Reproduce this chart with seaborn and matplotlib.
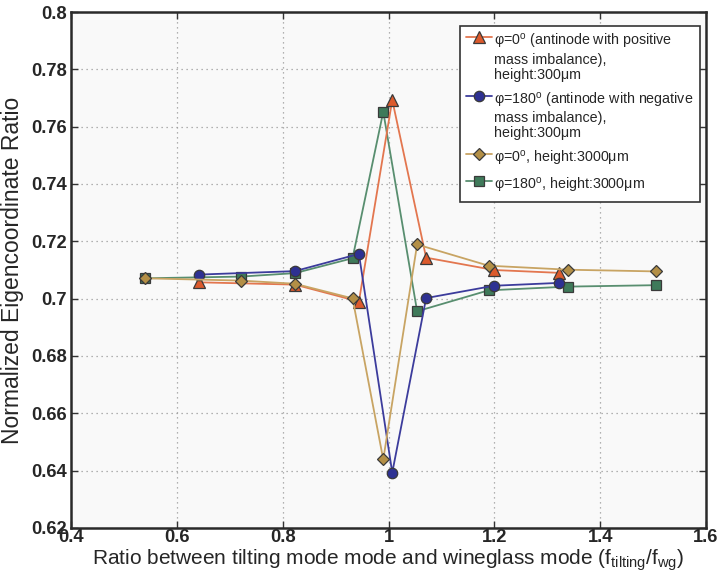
import numpy as np
import pandas as pd
import seaborn as sns
import matplotlib
matplotlib.use("Agg")
import matplotlib.pyplot as plt

# Tilting/wineglass frequency ratio and normalized eigencoordinate ratio
x_tri = [0.642, 0.823, 0.944, 1.007, 1.071, 1.199, 1.322]
y_tri = [0.7057, 0.7049, 0.6990, 0.7693, 0.7143, 0.7100, 0.7090]

x_circ = [0.642, 0.823, 0.944, 1.007, 1.071, 1.199, 1.322]
y_circ = [0.7084, 0.7096, 0.7156, 0.6393, 0.7002, 0.7045, 0.7055]

x_dia = [0.540, 0.721, 0.823, 0.932, 0.990, 1.054, 1.189, 1.339, 1.505]
y_dia = [0.7071, 0.7063, 0.7052, 0.7001, 0.6439, 0.7189, 0.7115, 0.7101, 0.7095]

x_sq = [0.540, 0.721, 0.823, 0.932, 0.990, 1.054, 1.189, 1.339, 1.505]
y_sq = [0.7071, 0.7077, 0.7089, 0.7141, 0.7652, 0.6956, 0.7029, 0.7042, 0.7047]

labels = [
    "φ=0$^{\\mathrm{o}}$ (antinode with positive\nmass imbalance),\nheight:300μm",
    "φ=180$^{\\mathrm{o}}$ (antinode with negative\nmass imbalance),\nheight:300μm",
    "φ=0$^{\\mathrm{o}}$, height:3000μm",
    "φ=180$^{\\mathrm{o}}$, height:3000μm",
]
x_ticks = [0.4, 0.6, 0.8, 1.0, 1.2, 1.4, 1.6]
x_tick_labels = ["0.4", "0.6", "0.8", "1", "1.2", "1.4", "1.6"]
y_ticks = [0.62, 0.64, 0.66, 0.68, 0.70, 0.72, 0.74, 0.76, 0.78, 0.80]
y_tick_labels = ["0.62", "0.64", "0.66", "0.68", "0.7", "0.72", "0.74", "0.76", "0.78", "0.8"]

sns.set_style("ticks")
plt.rcParams["font.family"] = ["Liberation Sans", "DejaVu Sans"]
plt.rcParams["mathtext.fontset"] = "custom"
plt.rcParams["mathtext.rm"] = "Liberation Sans"
plt.rcParams["mathtext.it"] = "Liberation Sans"

fig = plt.figure(figsize=(7.19, 5.80), dpi=100)
ax = fig.add_axes([0.0988, 0.0897, 0.8832, 0.8896])
ax.set_facecolor("#f9f9f9")

series = [
    (x_tri, y_tri, "^", "#dc5a2c", "#e3764f", 4),
    (x_circ, y_circ, "o", "#2e3192", "#3c3c9c", 4),
    (x_dia, y_dia, "D", "#b38f46", "#c8a463", 4),
    (x_sq, y_sq, "s", "#3f7a5a", "#588e6f", 3),
]
msizes = {"^": 8.5, "o": 7.5, "D": 6.5, "s": 6.5}
for (xs, ys, m, fc, lc, z), lab in zip(series, labels):
    df = pd.DataFrame({"x": xs, "y": ys})
    sns.lineplot(data=df, x="x", y="y", ax=ax, sort=False, estimator=None,
                 color=lc, lw=1.3, marker=m, markersize=msizes[m],
                 markerfacecolor=fc, markeredgecolor="#3a3a3a",
                 markeredgewidth=0.9, zorder=z, label=lab)

ax.set_xlim(0.4, 1.6)
ax.set_ylim(0.62, 0.8)
ax.set_xticks(x_ticks)
ax.set_xticklabels(x_tick_labels)
ax.set_yticks(y_ticks)
ax.set_yticklabels(y_tick_labels)
ax.tick_params(direction="in", top=True, right=True, length=5, width=1,
               labelsize=13.2, pad=1, color="#333333")
ax.tick_params(axis="y", pad=3)
for t in ax.get_xticklabels() + ax.get_yticklabels():
    t.set_fontweight("bold")
ax.grid(True, color="#9a9a9a", linestyle=(0, (1, 3)), linewidth=0.9)
for s in ax.spines.values():
    s.set_linewidth(1.8)
    s.set_color("#2a2a2a")

ax.set_xlabel("Ratio between tilting mode mode and wineglass mode (f$_{\\mathrm{tilting}}$/f$_{\\mathrm{wg}}$)",
              fontsize=15, labelpad=1)
ax.set_ylabel("Normalized Eigencoordinate Ratio", fontsize=16.5, labelpad=5)

h, l = ax.get_legend_handles_labels()
leg = ax.legend(h, l, loc="upper right", bbox_to_anchor=(0.9906, 0.9729),
                prop={"size": 10.3}, frameon=True, fancybox=False, framealpha=1,
                edgecolor="#333333", handlelength=1.8, handletextpad=0.15,
                labelspacing=0.6, borderpad=0.45, borderaxespad=0)
leg.get_frame().set_linewidth(1.2)
for t in leg.get_texts():
    t.set_linespacing(1.12)
# put each legend key level with the first line of its label
for col in leg._legend_handle_box.get_children():
    for row in col.get_children():
        row.align = "top"

fig.savefig("out.png", dpi=100)
